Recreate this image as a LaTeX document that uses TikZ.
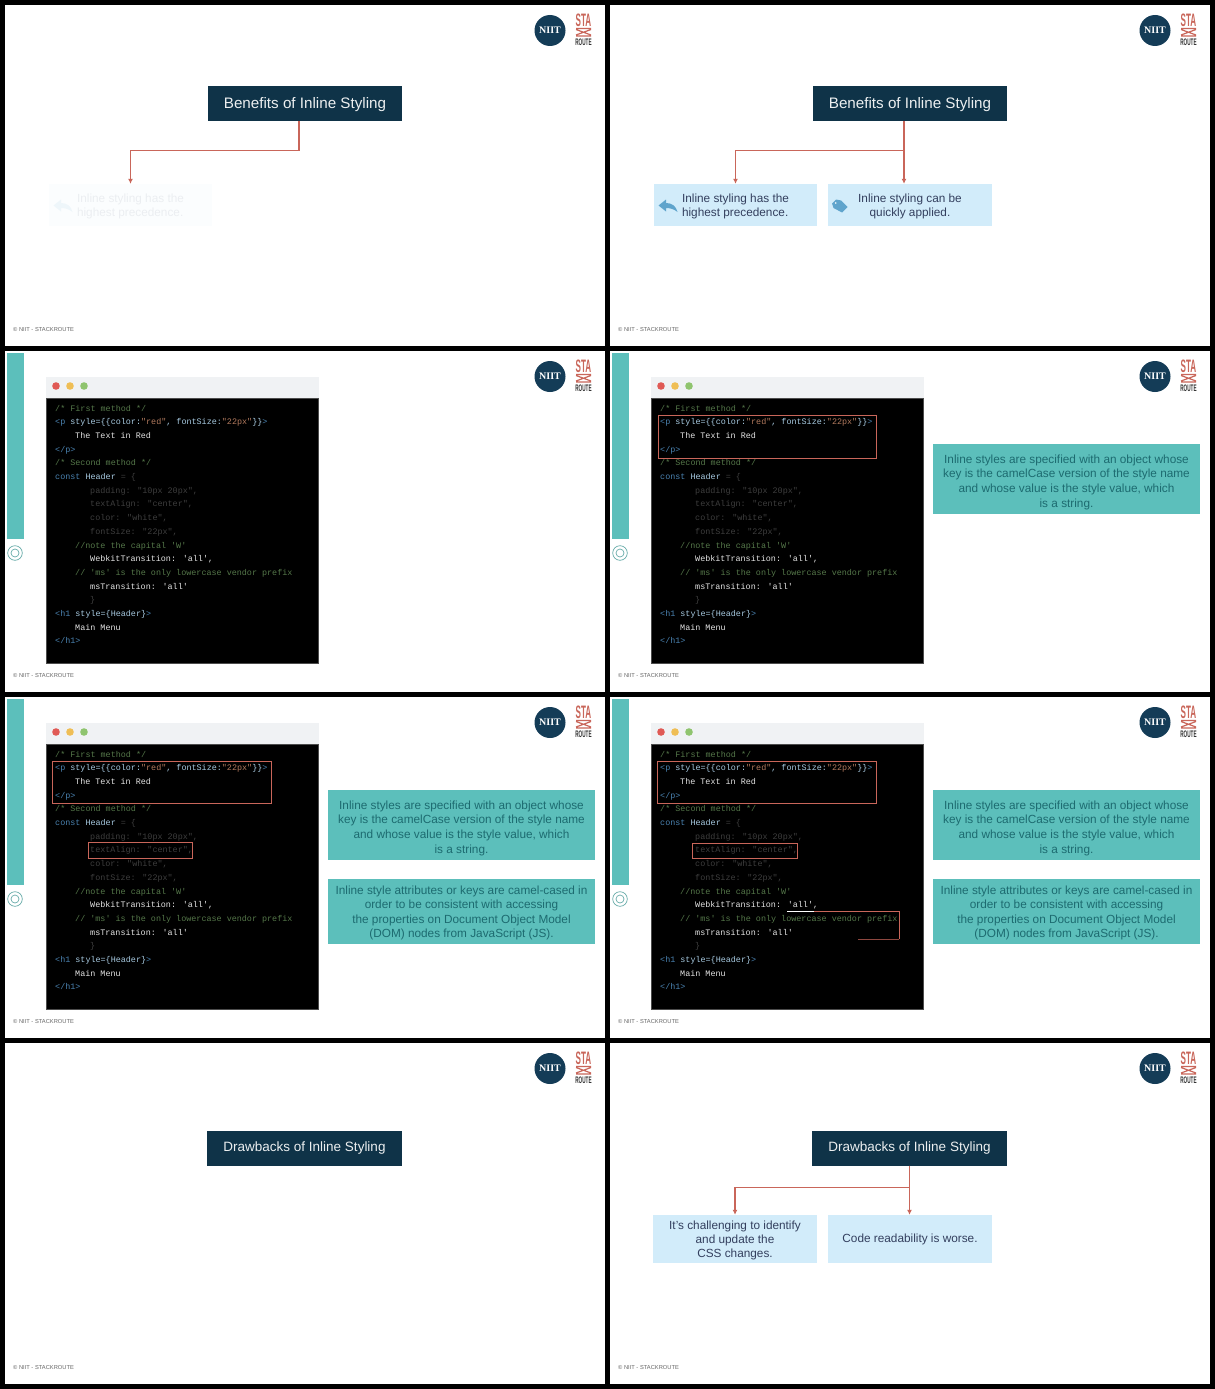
\documentclass[tikz,border=0pt]{standalone}
\usepackage{fontspec}
\setmainfont{Liberation Sans}
\newfontfamily\codefont{Liberation Mono}
\newfontfamily\logoserif{Liberation Serif}
\usetikzlibrary{arrows.meta, positioning}

\definecolor{navy}{HTML}{0F3348}
\definecolor{logonavy}{HTML}{143C57}
\definecolor{linkred}{HTML}{C9665A}
\definecolor{paleblue}{HTML}{D2ECFA}
\definecolor{bluetext}{HTML}{333F5E}
\definecolor{iconblue}{HTML}{5FA4CC}
\definecolor{stripteal}{HTML}{5CBFBB}
\definecolor{tealtext}{HTML}{1D6B70}
\definecolor{barback}{HTML}{F0F2F4}
\definecolor{dotred}{HTML}{E05A55}
\definecolor{dotyellow}{HTML}{EFBE55}
\definecolor{dotgreen}{HTML}{8FC46E}

\newcommand{\clcmt}[1]{\textcolor[HTML]{55784A}{#1}}
\newcommand{\cltag}[1]{\textcolor[HTML]{4A82B0}{#1}}
\newcommand{\clkey}[1]{\textcolor[HTML]{A8CBE2}{#1}}
\newcommand{\clstr}[1]{\textcolor[HTML]{B27A5E}{#1}}
\newcommand{\cldim}[1]{\textcolor[HTML]{3E3E3E}{#1}}
\newcommand{\clwht}[1]{\textcolor[HTML]{E4E4E4}{#1}}
\newcommand{\txtdown}[1]{\rule{0pt}{#1}}

\tikzset{
  titlebox/.style={fill=navy, text=white!92!navy, minimum width=194.5pt, minimum height=35pt,
    inner sep=0pt, font=\fontsize{15.2}{18}\selectfont},
  pointbox/.style={fill=paleblue, text=bluetext, minimum width=163.5pt, minimum height=42pt,
    inner sep=0pt, align=center, font=\fontsize{11.8}{14}\selectfont},
  tealbox/.style={fill=stripteal, text=tealtext, minimum width=267.5pt, inner sep=0pt, align=center,
    font=\fontsize{11.8}{14.6}\selectfont},
  link/.style={draw=linkred, line width=1.2pt, -{Latex[length=5pt,width=5pt]}},
  hilite/.style={draw=linkred, line width=1pt},
  codeline/.style={anchor=west, inner sep=0pt, text height=6pt, text depth=2pt,
    font=\codefont\fontsize{8.42}{10}\selectfont},
}

% white page with logo and footer
\newcommand{\slidepage}{
  \fill[white] (5,5) rectangle (605,346);
  \node[circle, fill=logonavy, minimum size=31pt, inner sep=0pt, text=white] (niit) at (550,30.5)
    {\logoserif\fontsize{10}{10}\selectfont\bfseries NIIT};
  \node[inner sep=0pt, text=linkred] (sta) at (583.5,20.5)
    {\scalebox{.45}[1]{\fontsize{18}{18}\selectfont\bfseries STA}};
  \draw[linkred, line width=1.2pt] (576,28.5) -- (591,28.5) (576,36) -- (591,36)
    (576,29.5) -- (591,35) (591,29.5) -- (576,35);
  \node[inner sep=0pt, text=black!80] (route) at (583.5,42.5)
    {\scalebox{.49}[1]{\fontsize{9.5}{10}\selectfont\bfseries ROUTE}};
  \node[anchor=west, inner sep=0pt, text=black!60, font=\fontsize{5.75}{6}\selectfont] (foot) at (13,329.5)
    {\textcopyright\ NIIT - STACKROUTE};
}

% code window with the side strip
\newcommand{\codewindow}{
  \fill[stripteal] (7,7) rectangle (24,193);
  \draw[stripteal!70!gray, line width=.7pt] (15,207) circle (7.3) (15,207) circle (4);
  \fill[barback] (46,31) rectangle (318.5,52);
  \fill[black] (46,52) rectangle (318.5,317);
  \draw[black!70] (46,52) rectangle (318.5,317);
  \foreach \dotx/\dotcol in {56/dotred, 70/dotyellow, 84/dotgreen}
    \fill[\dotcol] (\dotx,40) circle (3.8);
  \foreach \xx/\txt [count=\i] in {
    55/{\clcmt{/* First method */}},
    55/{\cltag{<p} \clkey{style=\{\{color:}\clstr{"red"}\clkey{, fontSize:}\clstr{"22px"}\clkey{\}\}}\cltag{>}},
    75/{\clwht{The Text in Red}},
    55/{\cltag{</p>}},
    55/{\clcmt{/* Second method */}},
    55/{\cltag{const} \clkey{Header} \cldim{=  \{}},
    90/{\cldim{padding: "10px 20px",}},
    90/{\cldim{textAlign: "center",}},
    90/{\cldim{color: "white",}},
    90/{\cldim{fontSize: "22px",}},
    75/{\clcmt{//note the capital 'W'}},
    90/{\clwht{WebkitTransition: 'all',}},
    75/{\clcmt{// 'ms' is the only lowercase vendor prefix}},
    90/{\clwht{msTransition: 'all'}},
    90/{\cldim{\}}},
    55/{\cltag{<h1} \clkey{style=\{Header\}}\cltag{>}},
    75/{\clwht{Main Menu}},
    55/{\cltag{</h1>}}}
    \node[codeline] (code\i) at (\xx,{49.3+13.7*\i}) {\txt};
}

\newcommand{\replyicon}{
  \fill[iconblue] (53.5,205.5) -- (61,199.5) -- (61,203)
    .. controls (67,203) and (71,206) .. (72.5,212)
    .. controls (69,209) and (65,208) .. (61,208) -- (61,211.5) -- cycle;
}
\newcommand{\tagicon}{
  \fill[iconblue] (227,203.5) -- (231,199.5) -- (236,200.5) -- (242.5,207) -- (237,212.5) -- (228.5,208) -- cycle;
  \fill[white] (230.8,203) circle (.9);
}

\begin{document}
\begin{tikzpicture}[x=1pt, y=-1pt]
\useasboundingbox (0,0) rectangle (1215,1389);
\fill[black] (0,0) rectangle (1215,1389);

% Benefits, first step
\begin{scope}[name prefix=a-]
  \slidepage
  \node[pointbox, opacity=.08, align=left] (high) at (130.5,205) {\txtdown{11.9pt}Inline styling has the\\highest precedence.};
  \node[titlebox] (title) at (305,103.5) {\txtdown{13.3pt}Benefits of Inline Styling};
  \begin{scope}[opacity=.08]
    \replyicon
  \end{scope}
  \draw[link] ([xshift=-6pt]title.south) -- ++(0,29) -| (high.north);
\end{scope}

% Benefits, both points
\begin{scope}[shift={(605,0)}, name prefix=b-]
  \slidepage
  \node[titlebox] (title) at (305,103.5) {\txtdown{13.3pt}Benefits of Inline Styling};
  \node[pointbox, align=left] (high) at (130.5,205) {\txtdown{11.9pt}Inline styling has the\\highest precedence.};
  \node[pointbox] (quick) at (305,205) {\txtdown{11.9pt}Inline styling can be\\quickly applied.};
  \replyicon
  \tagicon
  \draw[link] ([xshift=-6pt]title.south) -- ++(0,29) -| (high.north);
  \draw[link] ([xshift=-6pt]title.south) -- ([xshift=-6pt]quick.north);
\end{scope}

% Code only
\begin{scope}[shift={(0,346)}, name prefix=c-]
  \slidepage
  \codewindow
\end{scope}

% First highlight
\begin{scope}[shift={(605,346)}, name prefix=d-]
  \slidepage
  \codewindow
  \draw[hilite] (53,69) rectangle (271,112);
  \node[tealbox, minimum height=70pt] (objkey) at (461.5,133) {\txtdown{14.8pt}Inline styles are specified with an object whose\\key is the camelCase version of the style name\\and whose value is the style value, which\\is a string.};
\end{scope}

% Second highlight
\begin{scope}[shift={(0,692)}, name prefix=e-]
  \slidepage
  \codewindow
  \draw[hilite] (52.5,69) rectangle (271,111);
  \draw[hilite] (88,150) rectangle (192,166);
  \node[tealbox, minimum height=70pt] (objkey) at (461.5,133) {\txtdown{14.8pt}Inline styles are specified with an object whose\\key is the camelCase version of the style name\\and whose value is the style value, which\\is a string.};
  \node[tealbox, minimum height=65pt] (camel) at (461.5,219.5) {\txtdown{11.3pt}Inline style attributes or keys are camel-cased in\\order to be consistent with accessing\\the properties on Document Object Model\\(DOM) nodes from JavaScript (JS).};
\end{scope}

% Third highlight, still being drawn
\begin{scope}[shift={(605,692)}, name prefix=f-]
  \slidepage
  \codewindow
  \draw[hilite] (52.5,69) rectangle (271,111);
  \draw[hilite] (87.5,151) rectangle (192,166);
  \draw[hilite] (209,219) -- (294,219) -- (294,247);
  \draw[white, line width=.9pt] (182,219) -- (209,219);
  \draw[linkred!70!black, line width=.8pt] (294,247) -- (253,247);
  \node[tealbox, minimum height=70pt] (objkey) at (461.5,133) {\txtdown{14.8pt}Inline styles are specified with an object whose\\key is the camelCase version of the style name\\and whose value is the style value, which\\is a string.};
  \node[tealbox, minimum height=65pt] (camel) at (461.5,219.5) {\txtdown{11.3pt}Inline style attributes or keys are camel-cased in\\order to be consistent with accessing\\the properties on Document Object Model\\(DOM) nodes from JavaScript (JS).};
\end{scope}

% Drawbacks, title only
\begin{scope}[shift={(0,1038)}, name prefix=g-]
  \slidepage
  \node[titlebox, font=\fontsize{13.5}{18}\selectfont] (title) at (304.5,110) {Drawbacks of Inline Styling};
\end{scope}

% Drawbacks, both points
\begin{scope}[shift={(605,1038)}, name prefix=h-]
  \slidepage
  \node[titlebox, font=\fontsize{13.5}{18}\selectfont] (title) at (304.5,110) {Drawbacks of Inline Styling};
  \node[pointbox, minimum height=48pt] (hard) at (130,201) {\txtdown{10.5pt}It's challenging to identify\\and update the\\CSS changes.};
  \node[pointbox, minimum height=48pt] (read) at (305,201) {Code readability is worse.};
  \draw[link] (title.south) -- ++(0,21.5) -| (hard.north);
  \draw[link] (title.south) -- (title.south |- read.north);
\end{scope}

\end{tikzpicture}
\end{document}
